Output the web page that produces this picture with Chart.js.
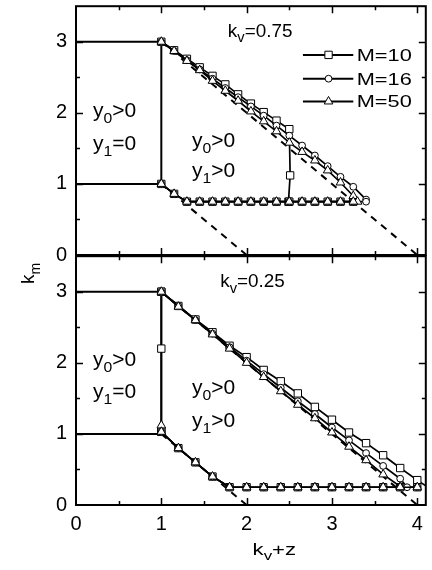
<!DOCTYPE html>
<html>
<head>
<meta charset="utf-8">
<script src="https://cdn.jsdelivr.net/npm/chart.js@4.4.1/dist/chart.umd.min.js"></script>
<style>
  body { margin: 0; background: #fff; width: 432px; height: 570px; overflow: hidden; position: relative; }
  canvas { position: absolute; left: 0; }
  #topChart { top: 0; }
  #botChart { top: 250px; }
</style>
</head>
<body>
<canvas id="topChart" width="432" height="275"></canvas>
<canvas id="botChart" width="432" height="320"></canvas>
<script>
// axis ranges and labels
const xMax = 4.1;
const yMax = 3.5;
const xLabels = [0, 1, 2, 3, 4];
const yLabels = [0, 1, 2, 3];

// region boundary (solid) and asymptotes (dashed), same in both panels
const boundX = [0, 1, 1, 0];
const boundY = [3, 3, 1, 1];
const dashUpX = [1, 4];
const dashUpY = [3, 0];
const dashLowX = [1, 2];
const dashLowY = [1, 0];

// ---- k_v = 0.75 (top panel) ----
const topUpX10 = [1, 1.15, 1.3, 1.45, 1.6, 1.75, 1.9, 2.05, 2.2, 2.35, 2.5, 2.51, 2.49];
const topUpY10 = [3, 2.88, 2.76, 2.64, 2.52, 2.4, 2.26, 2.13, 2.01, 1.89, 1.77, 1.12, 0.75];
const topUpX16 = [1, 1.15, 1.3, 1.45, 1.6, 1.75, 1.9, 2.05, 2.2, 2.35, 2.5, 2.65, 2.8, 2.95, 3.1, 3.25, 3.4];
const topUpY16 = [3, 2.87, 2.74, 2.61, 2.48, 2.35, 2.22, 2.09, 1.96, 1.82, 1.68, 1.54, 1.4, 1.25, 1.1, 0.96, 0.78];
const topUpX50 = [1, 1.15, 1.3, 1.45, 1.6, 1.75, 1.9, 2.05, 2.2, 2.35, 2.5, 2.65, 2.8, 2.95, 3.1, 3.25, 3.3];
const topUpY50 = [3, 2.87, 2.73, 2.6, 2.45, 2.31, 2.17, 2.02, 1.88, 1.74, 1.58, 1.45, 1.33, 1.19, 1.02, 0.83, 0.75];
const topLowX = [1, 1.15, 1.3, 1.45, 1.6, 1.75, 1.9, 2.05, 2.2, 2.35, 2.5, 2.65, 2.8, 2.95, 3.1, 3.25];
const topLowY = [1, 0.86, 0.75, 0.75, 0.75, 0.75, 0.75, 0.75, 0.75, 0.75, 0.75, 0.75, 0.75, 0.75, 0.75, 0.75];
const topLowX16 = [1, 1.15, 1.3, 1.45, 1.6, 1.75, 1.9, 2.05, 2.2, 2.35, 2.5, 2.65, 2.8, 2.95, 3.1, 3.25, 3.4];
const topLowY16 = [1, 0.86, 0.75, 0.75, 0.75, 0.75, 0.75, 0.75, 0.75, 0.75, 0.75, 0.75, 0.75, 0.75, 0.75, 0.75, 0.75];

// ---- k_v = 0.25 (bottom panel) ----
const botUpX10 = [1, 1.2, 1.4, 1.6, 1.8, 2, 2.2, 2.4, 2.6, 2.8, 3, 3.2, 3.4, 3.6, 3.8, 4, 4.1];
const botUpY10 = [3, 2.8, 2.61, 2.43, 2.24, 2.08, 1.9, 1.74, 1.57, 1.38, 1.2, 1.02, 0.87, 0.7, 0.52, 0.35, 0.27];
const botVertX10 = [1, 1, 1];
const botVertY10 = [3, 2.2, 1.03];
const botUpX16 = [1, 1.2, 1.4, 1.6, 1.8, 2, 2.2, 2.4, 2.6, 2.8, 3, 3.2, 3.4, 3.6, 3.8, 3.88];
const botUpY16 = [3, 2.8, 2.6, 2.41, 2.22, 2.03, 1.84, 1.65, 1.46, 1.28, 1.09, 0.91, 0.73, 0.55, 0.37, 0.25];
const botUpX50 = [1, 1.2, 1.4, 1.6, 1.8, 2, 2.2, 2.4, 2.6, 2.8, 3, 3.2, 3.4, 3.6, 3.8];
const botUpY50 = [3, 2.79, 2.6, 2.4, 2.2, 2.0, 1.8, 1.6, 1.41, 1.22, 1.02, 0.82, 0.63, 0.43, 0.26];
const botLowX = [1, 1.2, 1.4, 1.6, 1.8, 2, 2.2, 2.4, 2.6, 2.8, 3, 3.2, 3.4, 3.6, 3.8, 4];
const botLowY = [1.03, 0.8, 0.6, 0.4, 0.25, 0.25, 0.25, 0.25, 0.25, 0.25, 0.25, 0.25, 0.25, 0.25, 0.25, 0.25];
const botLowX50 = [1, 1, 1.2, 1.4, 1.6, 1.8, 2, 2.2, 2.4, 2.6, 2.8, 3, 3.2, 3.4, 3.6, 3.8, 4];
const botLowY50 = [1.12, 1.03, 0.8, 0.6, 0.4, 0.25, 0.25, 0.25, 0.25, 0.25, 0.25, 0.25, 0.25, 0.25, 0.25, 0.25, 0.25];

const seriesNames = ["M=10", "M=16", "M=50"];

const FONT = '"Liberation Sans", Arial, sans-serif';
Chart.defaults.font.family = FONT;
Chart.defaults.color = "#000";

function pts(xs, ys) {
  return xs.map((x, i) => ({ x: x, y: ys[i] }));
}

// join several polylines into one dataset, broken by null points
function joined(...segs) {
  let out = [];
  segs.forEach((s, i) => {
    if (i > 0) out.push({ x: s[0].x, y: null });
    out = out.concat(s);
  });
  return out;
}

// marker look per series, index matches seriesNames
const markers = [
  { pointStyle: "rect", pointRadius: 5.2 },
  { pointStyle: "circle", pointRadius: 3.4 },
  { pointStyle: "triangle", pointRadius: 5 },
];

function series(i, data) {
  const m = markers[i];
  return {
    label: seriesNames[i],
    data: data,
    borderColor: "#000",
    borderWidth: 1.7,
    pointBackgroundColor: "#fff",
    pointBorderColor: "#000",
    pointBorderWidth: 1,
    pointStyle: m.pointStyle,
    pointRadius: (c) => (c.raw && c.raw.x > 4.05 ? 0 : m.pointRadius),
    spanGaps: false,
    fill: false,
  };
}

function boundary() {
  return {
    label: "bound",
    data: pts(boundX, boundY),
    borderColor: "#000",
    borderWidth: 2,
    pointRadius: 0,
    fill: false,
  };
}

function asymptotes() {
  return {
    label: "dash",
    data: joined(pts(dashUpX, dashUpY), pts(dashLowX, dashLowY)),
    borderColor: "#000",
    borderWidth: 2,
    borderDash: [7, 6],
    pointRadius: 0,
    spanGaps: false,
    fill: false,
  };
}

// draw text with subscripts, slightly widened like the original figure
function drawRich(ctx, x, y, parts, size, sx) {
  ctx.save();
  ctx.translate(x, y);
  ctx.scale(sx, 1);
  ctx.fillStyle = "#000";
  ctx.textBaseline = "alphabetic";
  ctx.textAlign = "left";
  let cx = 0;
  parts.forEach((p) => {
    const sub = p[1];
    const fs = sub ? Math.round(size * 0.75) : size;
    ctx.font = fs + "px " + FONT;
    ctx.fillText(p[0], cx, sub ? size * 0.3 : 0);
    cx += ctx.measureText(p[0]).width;
  });
  ctx.restore();
}

// box with inward ticks on all four sides
const framePlugin = {
  id: "frame",
  afterDraw(chart) {
    const { ctx, chartArea: a } = chart;
    const xs = chart.scales.x, ys = chart.scales.y;
    ctx.save();
    ctx.strokeStyle = "#000";
    ctx.lineWidth = 2;
    ctx.strokeRect(a.left, a.top, a.right - a.left, a.bottom - a.top);
    ctx.lineWidth = 1.5;
    ctx.beginPath();
    for (let v = 0.5; v <= 4; v += 0.5) {
      const px = Math.round(xs.getPixelForValue(v)) + 0.5;
      const len = v % 1 === 0 ? 7 : 4;
      ctx.moveTo(px, a.bottom);
      ctx.lineTo(px, a.bottom - len);
      ctx.moveTo(px, a.top);
      ctx.lineTo(px, a.top + len);
    }
    for (let v = 0.5; v < yMax; v += 0.5) {
      const py = Math.round(ys.getPixelForValue(v)) + 0.5;
      const len = v % 1 === 0 ? 7 : 4;
      ctx.moveTo(a.left, py);
      ctx.lineTo(a.left + len, py);
      ctx.moveTo(a.right, py);
      ctx.lineTo(a.right - len, py);
    }
    ctx.stroke();
    ctx.restore();
  },
};

// annotations, legend and axis titles
const notesPlugin = {
  id: "notes",
  afterDraw(chart, args, opts) {
    const ctx = chart.ctx;
    const xs = chart.scales.x, ys = chart.scales.y;
    (opts.items || []).forEach((it) => {
      drawRich(ctx, xs.getPixelForValue(it.x), ys.getPixelForValue(it.y), it.parts, it.size, it.sx);
    });
    if (opts.legend) {
      const lg = opts.legend;
      [2, 1, 0].forEach((dsIndex, row) => {
        const ds = chart.data.datasets[dsIndex];
        const y = ys.getPixelForValue(lg.rows[row]);
        const x0 = xs.getPixelForValue(lg.x0), x1 = xs.getPixelForValue(lg.x1);
        const xm = xs.getPixelForValue(lg.xm);
        ctx.save();
        ctx.strokeStyle = "#000";
        ctx.lineWidth = 2;
        ctx.beginPath();
        ctx.moveTo(x0, y);
        ctx.lineTo(x1, y);
        ctx.stroke();
        ctx.fillStyle = "#fff";
        ctx.lineWidth = 1;
        Chart.helpers.drawPoint(ctx, { pointStyle: ds.pointStyle, radius: markers[row].pointRadius, rotation: 0, borderWidth: 1 }, xm, y);
        ctx.restore();
        drawRich(ctx, xs.getPixelForValue(lg.tx), y + 6, [[ds.label, 0]], 17, 1.28);
      });
    }
    if (opts.titles) {
      const a = chart.chartArea;
      drawRich(ctx, xs.getPixelForValue(2.07), a.bottom + 50, [["k", 0], ["v", 1], ["+z", 0]], 17, 1.3);
      ctx.save();
      ctx.translate(34, 34);
      ctx.rotate(-Math.PI / 2);
      drawRich(ctx, 0, 0, [["k", 0], ["m", 1]], 19, 1);
      ctx.restore();
    }
  },
};

function makeChart(id, datasets, showX, padding, notes) {
  return new Chart(document.getElementById(id), {
    type: "line",
    data: { datasets: datasets },
    options: {
      responsive: false,
      animation: false,
      layout: { padding: padding },
      plugins: { legend: { display: false }, tooltip: { enabled: false }, notes: notes },
      scales: {
        x: {
          type: "linear",
          min: 0,
          max: xMax,
          display: showX,
          grid: { display: false, drawTicks: false },
          border: { display: false },
          ticks: {
            stepSize: 1,
            includeBounds: false,
            padding: 7,
            maxRotation: 0,
            font: { size: 20 },
            callback: (v) => (xLabels.includes(v) ? String(v) : ""),
          },
          afterFit: (s) => {
            if (showX) s.height = 65;
            s.paddingLeft = 0;
            s.paddingRight = 0;
          },
        },
        y: {
          type: "linear",
          min: 0,
          max: yMax,
          grid: { display: false, drawTicks: false },
          border: { display: false },
          ticks: {
            stepSize: 0.5,
            autoSkip: false,
            padding: 9,
            font: { size: 20 },
            callback: (v) => (yLabels.includes(v) ? String(v) : ""),
          },
          afterFit: (s) => {
            s.width = 76;
            s.paddingTop = 0;
            s.paddingBottom = 0;
          },
        },
      },
    },
    plugins: [framePlugin, notesPlugin],
  });
}

// dataset 0 is drawn on top, so triangles (M=50) come first
const topSets = [
  series(2, joined(pts(topUpX50, topUpY50), pts(topLowX, topLowY))),
  series(1, joined(pts(topUpX16, topUpY16), pts(topLowX16, topLowY16))),
  series(0, joined(pts(topUpX10, topUpY10), pts(topLowX, topLowY))),
  boundary(),
  asymptotes(),
];

const botSets = [
  series(2, joined(pts(botUpX50, botUpY50), pts(botLowX50, botLowY50))),
  series(1, joined(pts(botUpX16, botUpY16), pts(botLowX, botLowY))),
  series(0, joined(pts(botUpX10, botUpY10), pts(botVertX10, botVertY10), pts(botLowX, botLowY))),
  boundary(),
  asymptotes(),
];

const big = 20, bigSx = 1.05;

makeChart("topChart", topSets, false, { top: 5, right: 4, bottom: 20, left: 0 }, {
  items: [
    { x: 1.78, y: 3.07, size: 18, sx: 1.05, parts: [["k", 0], ["v", 1], ["=0.75", 0]] },
    { x: 0.2, y: 1.94, size: big, sx: bigSx, parts: [["y", 0], ["0", 1], [">0", 0]] },
    { x: 0.2, y: 1.48, size: big, sx: bigSx, parts: [["y", 0], ["1", 1], ["=0", 0]] },
    { x: 1.36, y: 1.52, size: big, sx: bigSx, parts: [["y", 0], ["0", 1], [">0", 0]] },
    { x: 1.36, y: 1.1, size: big, sx: bigSx, parts: [["y", 0], ["1", 1], [">0", 0]] },
  ],
  legend: { x0: 2.66, x1: 3.25, xm: 2.96, tx: 3.29, rows: [2.815, 2.48, 2.16] },
});

makeChart("botChart", botSets, true, { top: 5, right: 4, bottom: 0, left: 0 }, {
  items: [
    { x: 1.69, y: 3.06, size: 18, sx: 1.05, parts: [["k", 0], ["v", 1], ["=0.25", 0]] },
    { x: 0.2, y: 1.96, size: big, sx: bigSx, parts: [["y", 0], ["0", 1], [">0", 0]] },
    { x: 0.2, y: 1.51, size: big, sx: bigSx, parts: [["y", 0], ["1", 1], ["=0", 0]] },
    { x: 1.36, y: 1.56, size: big, sx: bigSx, parts: [["y", 0], ["0", 1], [">0", 0]] },
    { x: 1.36, y: 1.1, size: big, sx: bigSx, parts: [["y", 0], ["1", 1], [">0", 0]] },
  ],
  titles: true,
});
</script>
</body>
</html>
